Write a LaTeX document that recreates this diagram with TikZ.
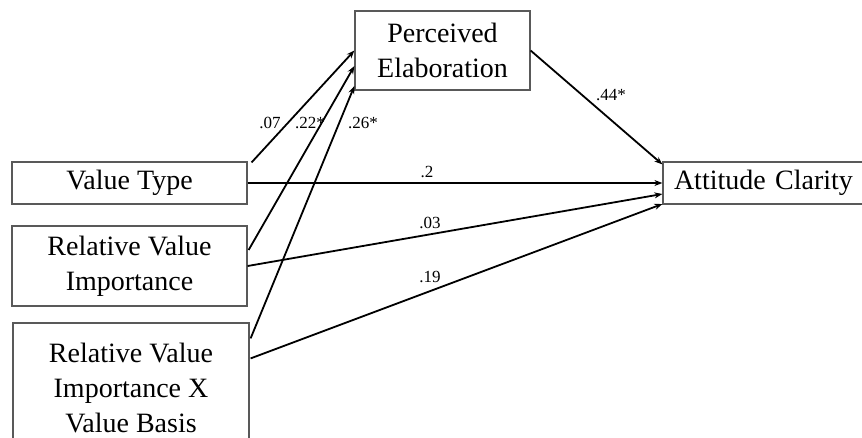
\documentclass[tikz,border=0pt]{standalone}
\usepackage{fontspec}
\setmainfont{Liberation Serif}
\usetikzlibrary{arrows.meta,calc}
\begin{document}
\begin{tikzpicture}[x=1pt,y=-1pt,
  box/.style={draw=black!65,line width=1.2pt,rectangle,align=center,inner sep=0pt,
    font=\fontsize{28}{35}\selectfont},
  arr/.style={line width=1.8pt,-{Stealth[length=8pt,width=6pt]}},
  lbl/.style={font=\fontsize{17}{20}\selectfont,inner sep=0pt}]
\useasboundingbox (0,0) rectangle (862,437);
\clip (0,0) rectangle (862,437);
\fill[white] (0,0) rectangle (862,437);
\node[box,minimum width=175pt,minimum height=79pt] (PE) at (442.5,50.5) {Perceived\\Elaboration};
\node[box,minimum width=235pt,minimum height=42pt] (VT) at (129.5,183) {Value Type};
\node[box,minimum width=235pt,minimum height=80pt] (RVI) at (129.5,266) {Relative Value\\Importance};
\node[box,minimum width=236pt,minimum height=130pt] (RVIX) at (131,388) {Relative Value\\Importance X\\Value Basis};
\node[box,minimum width=210pt,minimum height=42pt,text width=206pt,align=left] (AC) at (768,183) {\hspace*{9pt}Attitude Clarity};
% arrows to PE
\draw[arr] ([xshift=4pt,yshift=-1pt]VT.north east) -- ([yshift=0pt]PE.west);
\draw[arr] ([xshift=1pt,yshift=16pt]RVI.east) -- ([yshift=-15.5pt]PE.west);
\draw[arr] ([xshift=1pt,yshift=-16pt]RVIX.north east) -- ([yshift=-35.5pt]PE.west);
% arrows to AC
\draw[arr] ([yshift=0pt]PE.east) -- ([yshift=-3pt]AC.north west);
\draw[arr] (VT.east) -- (AC.west);
\draw[arr] (RVI.east) -- ([yshift=-11pt]AC.west);
\draw[arr] ([xshift=1pt,yshift=-36pt]RVIX.north east) -- ([yshift=-21pt]AC.west);
% labels
\node[lbl] (l07) at (270,123) {.07};
\node[lbl] (l22) at (310,123) {.22*};
\node[lbl] (l26) at (363,123) {.26*};
\node[lbl] (l44) at (611,95) {.44*};
\node[lbl] (l2) at (427,172) {.2};
\node[lbl] (l03) at (430,223) {.03};
\node[lbl] (l19) at (430,277) {.19};
\end{tikzpicture}
\end{document}
